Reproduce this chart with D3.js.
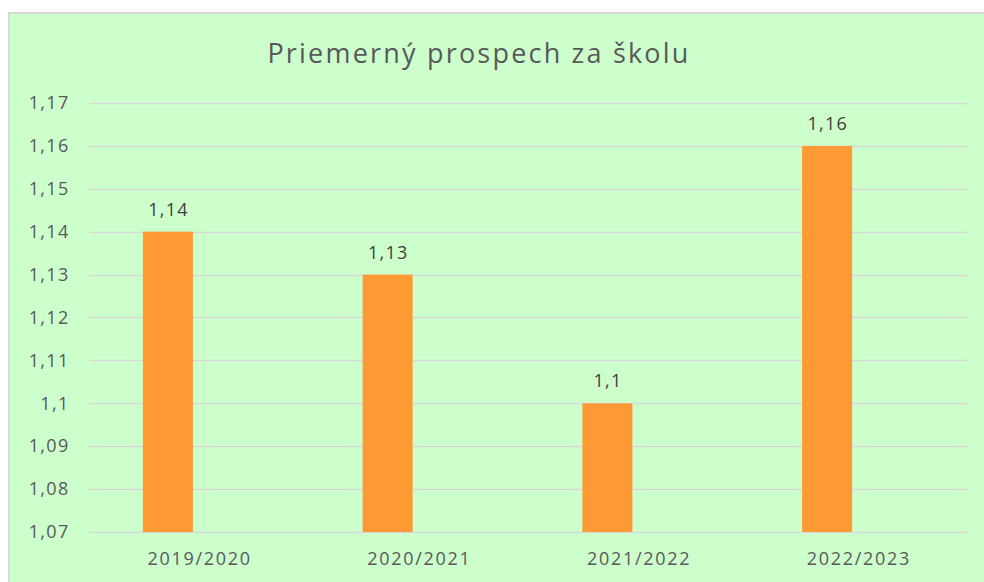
<!DOCTYPE html>
<html>
<head>
<meta charset="utf-8">
<script src="https://cdn.jsdelivr.net/npm/d3@7"></script>
<style>
  html, body { margin: 0; padding: 0; background: #ffffff; }
  svg { display: block; }
</style>
</head>
<body>
<div id="chart"></div>
<script>
// Údaje grafu
const title = "Priemerný prospech za školu";
const categories = ["2019/2020", "2020/2021", "2021/2022", "2022/2023"];
const values = [1.14, 1.13, 1.1, 1.16];
const yTicks = [1.07, 1.08, 1.09, 1.1, 1.11, 1.12, 1.13, 1.14, 1.15, 1.16, 1.17];

const width = 984;
const height = 582;
const plot = { left: 89, right: 968, top: 103, bottom: 532 };
const font = "'Open Sans', Lato, sans-serif";

const fmt = v => String(+v.toFixed(2)).replace(".", ",");

const svg = d3.select("#chart")
    .append("svg")
    .attr("width", width)
    .attr("height", height);

// Pozadie grafu
svg.append("rect")
    .attr("x", 9)
    .attr("y", 13)
    .attr("width", width)
    .attr("height", height)
    .attr("fill", "#ccffcc")
    .attr("stroke", "#d9d9d9")
    .attr("stroke-width", 2);

// Nadpis
svg.append("text")
    .attr("x", 479)
    .attr("y", 63)
    .attr("text-anchor", "middle")
    .attr("font-family", font)
    .attr("font-size", 27)
    .attr("letter-spacing", 2.2)
    .attr("fill", "#595959")
    .text(title);

// Mierky
const xScale = d3.scaleBand()
    .domain(categories)
    .range([plot.left, plot.right]);

const yScale = d3.scaleLinear()
    .domain([yTicks[0], yTicks[yTicks.length - 1]])
    .range([plot.bottom, plot.top]);

// Mriežka
svg.append("g")
    .selectAll("line")
    .data(yTicks)
    .enter()
    .append("line")
    .attr("x1", plot.left)
    .attr("x2", plot.right)
    .attr("y1", d => Math.round(yScale(d)) + 0.5)
    .attr("y2", d => Math.round(yScale(d)) + 0.5)
    .attr("stroke", "#d9d9d9")
    .attr("stroke-width", 1.5);

// Os y
const yAxis = svg.append("g")
    .attr("transform", `translate(${plot.left},0)`)
    .call(d3.axisLeft(yScale).tickValues(yTicks).tickFormat(fmt).tickSize(0).tickPadding(19.5));
yAxis.select(".domain").remove();
yAxis.selectAll("text")
    .attr("font-family", font)
    .attr("font-size", 18)
    .attr("letter-spacing", 1.3)
    .attr("fill", "#595959");

// Os x
const xAxis = svg.append("g")
    .attr("transform", `translate(0,${plot.bottom})`)
    .call(d3.axisBottom(xScale).tickSize(0).tickPadding(20));
xAxis.select(".domain").remove();
xAxis.selectAll("text")
    .attr("font-family", font)
    .attr("font-size", 18)
    .attr("letter-spacing", 1.7)
    .attr("dx", 0.8)
    .attr("fill", "#595959");

// Stĺpce (prvá séria v zoskupení, druhá je prázdna)
const barWidth = 50;
const barOffset = -56;

svg.selectAll(".bar")
    .data(values)
    .enter()
    .append("rect")
    .attr("class", "bar")
    .attr("x", (d, i) => xScale(categories[i]) + xScale.bandwidth() / 2 + barOffset)
    .attr("y", d => yScale(d))
    .attr("width", barWidth)
    .attr("height", d => plot.bottom - yScale(d))
    .attr("fill", "#ff9933");

// Hodnoty nad stĺpcami
svg.selectAll(".label")
    .data(values)
    .enter()
    .append("text")
    .attr("class", "label")
    .attr("x", (d, i) => xScale(categories[i]) + xScale.bandwidth() / 2 + barOffset + barWidth / 2 + 0.7)
    .attr("y", d => yScale(d) - 16)
    .attr("text-anchor", "middle")
    .attr("font-family", font)
    .attr("font-size", 18)
    .attr("letter-spacing", 1.3)
    .attr("fill", "#404040")
    .text(d => fmt(d));
</script>
</body>
</html>
